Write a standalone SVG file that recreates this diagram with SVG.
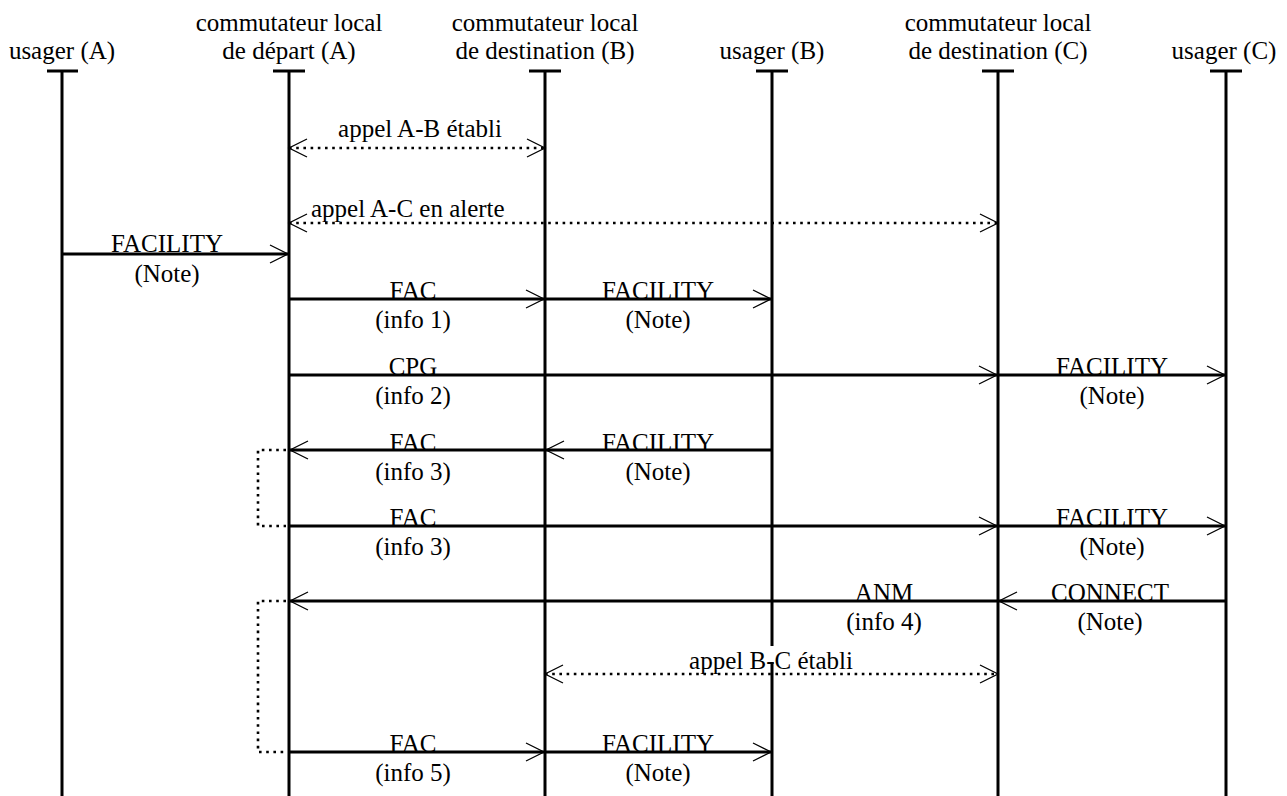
<svg xmlns="http://www.w3.org/2000/svg" width="1287" height="796" viewBox="0 0 1287 796">
<style>
text{font-family:"Liberation Serif","Times New Roman",serif;font-size:25px;fill:#000;text-anchor:middle}
.ll{stroke:#000;stroke-width:3;fill:none}
.msg{stroke:#000;stroke-width:3;fill:none;marker-end:url(#ah)}
.dot{stroke:#000;stroke-width:2.6;fill:none;stroke-dasharray:2.6 4.6}
.bi{marker-start:url(#ahs);marker-end:url(#ah)}
</style>
<defs>
<marker id="ah" markerUnits="userSpaceOnUse" viewBox="-20 -11 22 22" refX="0" refY="0" markerWidth="22" markerHeight="22" orient="auto">
<path d="M-18,-9 L0,0 L-18,9" fill="none" stroke="#000" stroke-width="1.3" stroke-dasharray="none"/>
</marker>
<marker id="ahs" markerUnits="userSpaceOnUse" viewBox="-20 -11 22 22" refX="0" refY="0" markerWidth="22" markerHeight="22" orient="auto-start-reverse">
<path d="M-18,-9 L0,0 L-18,9" fill="none" stroke="#000" stroke-width="1.3" stroke-dasharray="none"/>
</marker>
</defs>
<rect width="1287" height="796" fill="#fff"/>

<g id="usagerA">
<text x="62" y="59">usager (A)</text>
<path class="ll" d="M47,71 H78 M62,71 V796"/>
</g>
<g id="commutA">
<text x="289" y="31">commutateur local</text>
<text x="289" y="59">de départ (A)</text>
<path class="ll" d="M273,71 H305 M289,71 V796"/>
</g>
<g id="commutB">
<text x="545" y="31">commutateur local</text>
<text x="545" y="59">de destination (B)</text>
<path class="ll" d="M529,71 H561 M545,71 V796"/>
</g>
<g id="usagerB">
<text x="772" y="59">usager (B)</text>
<path class="ll" d="M756,71 H788 M772,71 V796"/>
</g>
<g id="commutC">
<text x="998" y="31">commutateur local</text>
<text x="998" y="59">de destination (C)</text>
<path class="ll" d="M982,71 H1014 M998,71 V796"/>
</g>
<g id="usagerC">
<text x="1224" y="59">usager (C)</text>
<path class="ll" d="M1210,71 H1242 M1226,71 V796"/>
</g>

<g id="labels">
<text x="420" y="137">appel A-B établi</text>
<text x="311" y="217" style="text-anchor:start">appel A-C en alerte</text>
<text x="167" y="252">FACILITY</text>
<text x="167" y="282">(Note)</text>
<text x="413" y="299">FAC</text>
<text x="413" y="328">(info 1)</text>
<text x="658" y="299">FACILITY</text>
<text x="658" y="328">(Note)</text>
<text x="413" y="375">CPG</text>
<text x="413" y="404">(info 2)</text>
<text x="1112" y="375">FACILITY</text>
<text x="1112" y="404">(Note)</text>
<text x="413" y="451">FAC</text>
<text x="413" y="480">(info 3)</text>
<text x="658" y="451">FACILITY</text>
<text x="658" y="480">(Note)</text>
<text x="413" y="526">FAC</text>
<text x="413" y="555">(info 3)</text>
<text x="1112" y="526">FACILITY</text>
<text x="1112" y="555">(Note)</text>
<text x="884" y="601">ANM</text>
<text x="884" y="630">(info 4)</text>
<text x="1110" y="601">CONNECT</text>
<text x="1110" y="630">(Note)</text>
<rect x="764" y="646" width="16" height="16" fill="#fff"/>
<text x="771" y="669">appel B-C établi</text>
<text x="413" y="752">FAC</text>
<text x="413" y="781">(info 5)</text>
<text x="658" y="752">FACILITY</text>
<text x="658" y="781">(Note)</text>
</g>

<g id="connectors">
<path class="dot bi" d="M289,148 H545"/>
<path class="dot bi" d="M289,223 H998"/>
<path class="msg" d="M62,254 H288"/>
<path class="msg" d="M289,299 H544"/>
<path class="msg" d="M545,299 H771"/>
<path class="msg" d="M289,375 H997"/>
<path class="msg" d="M998,375 H1225"/>
<path class="msg" d="M545,450 H290"/>
<path class="msg" d="M772,450 H546"/>
<path class="dot" d="M286,450 H258 V526 H286"/>
<path class="msg" d="M289,526 H997"/>
<path class="msg" d="M998,526 H1225"/>
<path class="msg" d="M998,601 H290"/>
<path class="msg" d="M1226,601 H999"/>
<path class="dot" d="M286,601 H258 V752 H286"/>
<path class="dot bi" d="M545,674 H998"/>
<path class="msg" d="M289,752 H544"/>
<path class="msg" d="M545,752 H771"/>
</g>
</svg>
